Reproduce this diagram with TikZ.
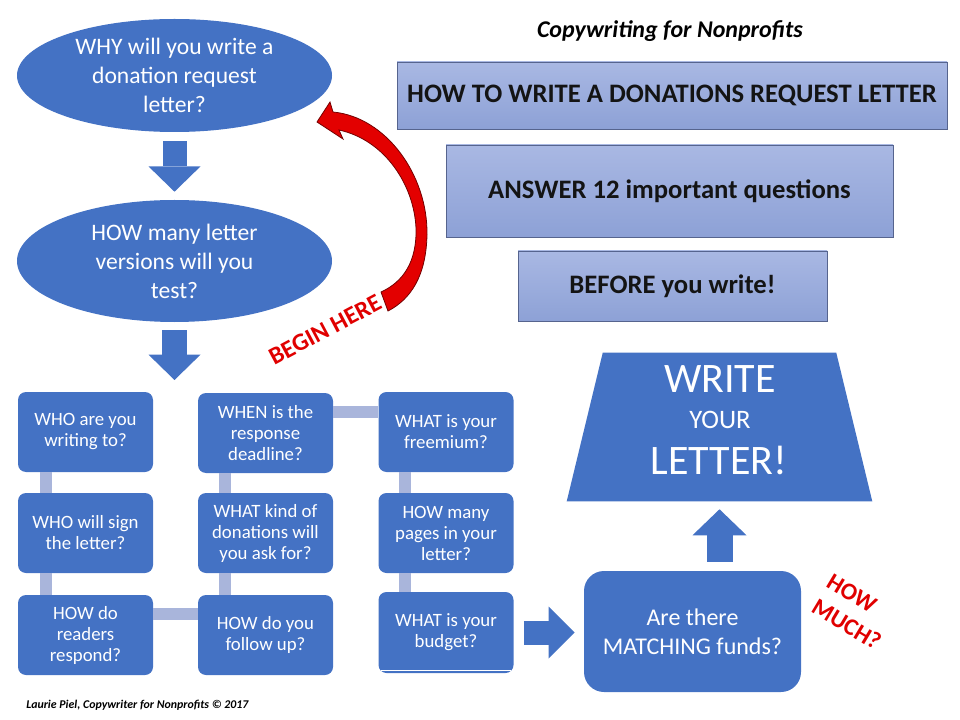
\documentclass[tikz,border=0pt]{standalone}
\usepackage{fontspec}
\setmainfont{Carlito}
\usetikzlibrary{shapes.geometric,arrows.meta,calc}
\definecolor{obl}{HTML}{4472C4}
\definecolor{connc}{HTML}{A9B5DB}
\definecolor{tboxtop}{HTML}{A9B8E3}
\definecolor{tboxbot}{HTML}{8DA1D6}
\definecolor{tboxedge}{HTML}{56648E}
\definecolor{redar}{HTML}{E30000}
\definecolor{redtx}{HTML}{E00000}
\begin{document}
\begin{tikzpicture}[x=0.75pt,y=-0.75pt,
  ell/.style={ellipse, fill=obl, text=white, align=center, inner xsep=0pt, inner ysep=-20pt,
    minimum width=236.25pt, font=\fontsize{17.7}{21.75}\selectfont},
  qbox/.style={rectangle, rounded corners=6pt, fill=obl, text=white, align=center,
    minimum width=101.25pt, minimum height=60pt, inner sep=0pt, font=\fontsize{14.1}{15.75}\selectfont},
  tbox/.style={rectangle, draw=tboxedge, line width=0.6pt, top color=tboxtop, bottom color=tboxbot,
    text=black!92, align=center, font=\bfseries\fontsize{20}{23}\selectfont, inner sep=0pt},
  link/.style={draw=connc, line width=9pt},
  blk/.style={draw=obl, line width=18pt, -{Triangle[length=19pt, width=39pt, line width=0pt]}},
  redlabel/.style={text=redtx, font=\bfseries\fontsize{18.5}{22}\selectfont, inner sep=0pt},
]
\useasboundingbox (0,0) rectangle (960,720);

% top titles
\node[font=\bfseries\itshape\fontsize{18}{21}\selectfont, inner sep=0pt] (title) at (670,31) {Copywriting for Nonprofits};
\node[tbox, minimum width=412.5pt, minimum height=50.25pt] (tb1) at (672,95.5) {HOW TO WRITE A DONATIONS REQUEST LETTER};
\node[tbox, minimum width=335.25pt, minimum height=69pt] (tb2) at (669.5,191) {ANSWER 12 important questions};
\node[tbox, minimum width=231.75pt, minimum height=52.5pt] (tb3) at (672.5,286) {BEFORE you write!};

% ellipses
\node[ell, minimum height=84.75pt] (e1) at (174.5,75.5) {WHY will you write a\\donation request\\letter?};
\node[ell, minimum height=91.5pt] (e2) at (174.5,261) {HOW many letter\\versions will you\\test?};
\coordinate (a2end) at (174.5,380);

\draw[blk, line width=18pt, shorten <=6.75pt, shorten >=6pt] (e1.south) -- (e2.north);
\draw[blk, line width=18.75pt, shorten <=6pt] (e2.south) -- (a2end);

% red curved arrow
\filldraw[fill=redar, draw=red!45!black, line width=0.6pt]
  (381,292) .. controls (403,282) and (417,262) .. (416,228)
  .. controls (414,185) and (385,140) .. (339,130)
  -- (343,139) -- (317,122) -- (330,102) -- (333,112)
  .. controls (386,117) and (428,175) .. (427,235)
  .. controls (426,276) and (411,299) .. (388,311) -- cycle;
\node[redlabel, rotate=28] (begin) at (325,330) {BEGIN HERE};

% grid of questions
\node[qbox] (c1r1) at (85.5,432) {WHO are you\\writing to?};
\node[qbox] (c1r2) at (85.5,533) {WHO will sign\\the letter?};
\node[qbox] (c1r3) at (85.5,635) {HOW do\\readers\\respond?};
\node[qbox] (c2r1) at (265.5,433) {WHEN is the\\response\\deadline?};
\node[qbox] (c2r2) at (265.5,533) {WHAT kind of\\donations will\\you ask for?};
\node[qbox] (c2r3) at (265.5,635) {HOW do you\\follow up?};
\node[qbox] (c3r1) at (446,432) {WHAT is your\\freemium?};
\node[qbox] (c3r2) at (446,533) {HOW many\\pages in your\\letter?};
\node[qbox, minimum height=60.75pt] (c3r3) at (446,632.5) {WHAT is your\\budget?};
\draw[white, line width=0.7pt] ($(c3r3.south west)+(3,-3)$) -- ($(c3r3.south east)+(-3,-3)$);

\draw[link] ([xshift=-30pt]c1r1.south) -- ([xshift=-30pt]c1r2.north);
\draw[link] ([xshift=-30pt]c1r2.south) -- ([xshift=-30pt]c1r3.north);
\draw[link] ([yshift=15.75pt]c1r3.east) -- ([yshift=15.75pt]c1r3.east -| c2r3.west);
\draw[link] ([xshift=-30.4pt]c2r3.north) -- ([xshift=-30.4pt]c2r2.south);
\draw[link] ([xshift=-30.4pt]c2r2.north) -- ([xshift=-30.4pt]c2r1.south);
\draw[link] ([yshift=15.75pt]c2r1.east) -- ([yshift=15.75pt]c2r1.east -| c3r1.west);
\draw[link] ([xshift=-30.75pt]c3r1.south) -- ([xshift=-30.75pt]c3r2.north);
\draw[link] ([xshift=-30.75pt]c3r2.south) -- ([xshift=-30.75pt]c3r3.north);

% matching funds
\node[rectangle, rounded corners=15pt, fill=obl, text=white, align=center, inner sep=0pt,
  minimum width=162.75pt, minimum height=90.75pt, font=\fontsize{18}{21.5}\selectfont]
  (match) at (692.5,631.5) {Are there\\MATCHING funds?};
\draw[blk, line width=18pt, -{Triangle[length=19.5pt, width=39pt, line width=0pt]}, shorten <=7.5pt, shorten >=6.75pt]
  (c3r3.east) -- (c3r3.east -| match.west);

% write your letter trapezoid
\node[rectangle, inner sep=0pt, minimum width=228.75pt, minimum height=111pt] (trap) at (719.5,427) {};
\fill[obl] (trap.south west) -- (trap.south east) -- ($(trap.north east)+(-36,0)$) -- ($(trap.north west)+(36,0)$) -- cycle;
\node[text=white, anchor=base, inner sep=0pt, font=\fontsize{31.5}{36}\selectfont] (tw) at (720,392) {WRITE};
\node[text=white, anchor=base, inner sep=0pt, font=\fontsize{20}{24}\selectfont] (ty) at (720,428) {YOUR};
\node[text=white, anchor=base, inner sep=0pt, font=\fontsize{31.5}{36}\selectfont] (tl) at (719,474) {LETTER!};
\draw[blk, line width=19.5pt, -{Triangle[length=19.5pt, width=40.5pt, line width=0pt]}, shorten <=6.75pt, shorten >=6pt]
  (match.north -| trap.south) -- (trap.south);

\node[redlabel, rotate=-31, align=left, font=\bfseries\fontsize{18}{22}\selectfont] (howmuch) at (854,612) {HOW\\MUCH?};

% footer
\node[anchor=west, inner sep=0pt, font=\bfseries\itshape\fontsize{8.9}{11}\selectfont] (foot) at (26,705) {Laurie Piel, Copywriter for Nonprofits © 2017};
\end{tikzpicture}
\end{document}
